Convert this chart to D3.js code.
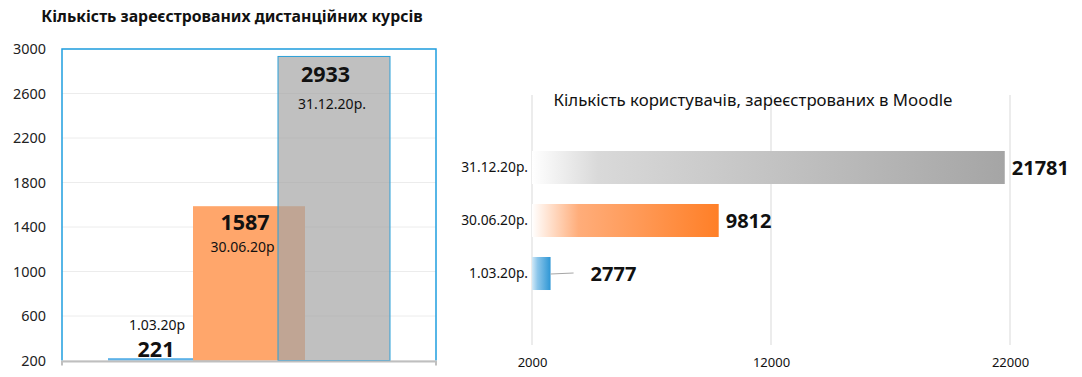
<!DOCTYPE html>
<html>
<head>
<meta charset="utf-8">
<script src="https://cdn.jsdelivr.net/npm/d3@7"></script>
<style>
  body { margin: 0; background: #fff; }
  svg { display: block; font-family: 'Noto Sans', 'Open Sans', sans-serif; }
</style>
</head>
<body>
<svg id="chart" width="1082" height="377"></svg>
<script>
// left chart: registered distance courses
const courseDates = ['1.03.20р', '30.06.20р', '31.12.20р.']
const courseCounts = [221, 1587, 2933]
const courseTicks = [200, 600, 1000, 1400, 1800, 2200, 2600, 3000]

// right chart: users registered in Moodle
const userDates = ['31.12.20р.', '30.06.20р.', '1.03.20р.']
const userCounts = [21781, 9812, 2777]
const userTicks = [2000, 12000, 22000]

const svg = d3.select('#chart')
const defs = svg.append('defs')

// ---------- left chart ----------
const left = {x0: 62, x1: 436, y0: 49, y1: 360.5}
const yL = d3.scaleLinear().domain([200, 3000]).range([left.y1, left.y0])
const xL = d3.scalePoint().domain(courseDates).range([164, 334])
const barW = 112
const leftFills = ['#5db2e8', '#ffa66b', '#a5a5a5']
const leftOpacity = [1, 1, 0.7]

svg.append('text')
  .attr('x', 232).attr('y', 22)
  .attr('text-anchor', 'middle')
  .style('font-size', '15.8px').style('font-weight', 'bold').style('fill', '#111')
  .text('Кількість зареєстрованих дистанційних курсів')

svg.append('g')
  .selectAll('line')
  .data(courseTicks)
  .join('line')
  .attr('x1', left.x0).attr('x2', left.x1)
  .attr('y1', (d) => yL(d)).attr('y2', (d) => yL(d))
  .attr('stroke', '#ececec')

const yAxisL = svg.append('g')
  .attr('transform', `translate(${left.x0}, 0)`)
  .call(d3.axisLeft(yL).tickValues(courseTicks).tickSize(0).tickPadding(16).tickFormat(d3.format('d')))
yAxisL.select('.domain').remove()
yAxisL.selectAll('text')
  .style('font-size', '14.4px').style('fill', '#222').style('font-family', "'Noto Sans', sans-serif")

svg.append('g')
  .selectAll('rect')
  .data(courseCounts)
  .join('rect')
  .attr('x', (d, i) => xL(courseDates[i]) - barW / 2)
  .attr('y', (d) => yL(d))
  .attr('width', barW)
  .attr('height', (d) => yL(200) - yL(d))
  .attr('fill', (d, i) => leftFills[i])
  .attr('fill-opacity', (d, i) => leftOpacity[i])
  .attr('stroke', (d, i) => i === 2 ? '#2a9fd8' : 'none')
  .attr('stroke-width', 1)

// plot area border (bottom edge hidden by the axis line)
svg.append('path')
  .attr('d', `M${left.x0},${left.y1}V${left.y0}H${left.x1}V${left.y1}`)
  .attr('fill', 'none').attr('stroke', '#1f9fe0').attr('stroke-width', 1.5)

// baseline axis with end ticks
svg.append('path')
  .attr('d', `M${left.x0},${yL(200) + 5}V${yL(200) + 1}H${left.x1}V${yL(200) + 5}`)
  .attr('fill', 'none').attr('stroke', '#bfbfbf').attr('stroke-width', 2)

const valueDy = [-1, 24, 26]
const dateDy = [-28, 46, 52.5]
const labelDx = [-8, -4, -8.5]
const dateDx = [-7, -6.5, -2]
const labelsL = svg.append('g')
labelsL.selectAll('text.value')
  .data(courseCounts)
  .join('text')
  .attr('class', 'value')
  .attr('x', (d, i) => xL(courseDates[i]) + labelDx[i])
  .attr('y', (d, i) => yL(d) + valueDy[i])
  .attr('text-anchor', 'middle')
  .style('font-size', '21.5px').style('font-weight', 'bold').style('fill', '#111')
  .text((d) => d)
labelsL.selectAll('text.date')
  .data(courseCounts)
  .join('text')
  .attr('class', 'date')
  .attr('x', (d, i) => xL(courseDates[i]) + dateDx[i])
  .attr('y', (d, i) => yL(d) + dateDy[i])
  .attr('text-anchor', 'middle')
  .style('font-size', '14px').style('fill', '#111')
  .text((d, i) => courseDates[i])

// ---------- right chart ----------
const xR = d3.scaleLinear().domain([2000, 22000]).range([532, 1010])
const yR = d3.scaleBand().domain(userDates).range([141, 300]).paddingInner(0.377).paddingOuter(0.1885)

const gradStops = [
  [['0', '#ffffff'], ['0.14', '#d9d9d9'], ['1', '#a5a5a5']],
  [['0', '#ffffff'], ['0.25', '#ffad7a'], ['1', '#ff7f27']],
  [['0', '#d2e9f7'], ['0.3', '#8cc6ea'], ['1', '#2d96d5']],
]
gradStops.forEach((stops, i) => {
  const g = defs.append('linearGradient').attr('id', 'grad' + i)
    .attr('x1', '0').attr('x2', '1').attr('y1', '0').attr('y2', '0')
  stops.forEach((s) => g.append('stop').attr('offset', s[0]).attr('stop-color', s[1]))
})

svg.append('g')
  .selectAll('line')
  .data(userTicks)
  .join('line')
  .attr('x1', (d) => xR(d)).attr('x2', (d) => xR(d))
  .attr('y1', 95).attr('y2', 345)
  .attr('stroke', '#d9d9d9')

svg.append('text')
  .attr('x', 753).attr('y', 106)
  .attr('text-anchor', 'middle')
  .style('font-size', '16.8px').style('fill', '#111')
  .text('Кількість користувачів, зареєстрованих в Moodle')

const xAxisR = svg.append('g')
  .attr('transform', 'translate(0, 345)')
  .call(d3.axisBottom(xR).tickValues(userTicks).tickSize(0).tickPadding(13).tickFormat(d3.format('d')))
xAxisR.select('.domain').remove()
xAxisR.selectAll('text')
  .style('font-size', '13px').style('fill', '#111').style('font-family', "'Noto Sans', sans-serif")

const yAxisR = svg.append('g')
  .attr('transform', 'translate(532, 0)')
  .call(d3.axisLeft(yR).tickSize(0).tickPadding(4))
yAxisR.select('.domain').remove()
yAxisR.selectAll('text')
  .style('font-size', '13.8px').style('fill', '#111').style('font-family', "'Noto Sans', sans-serif")

svg.append('g')
  .selectAll('rect')
  .data(userCounts)
  .join('rect')
  .attr('x', xR(2000))
  .attr('y', (d, i) => yR(userDates[i]))
  .attr('width', (d) => xR(d) - xR(2000))
  .attr('height', yR.bandwidth())
  .attr('fill', (d, i) => `url(#grad${i})`)

// leader line for the short bar label
svg.append('line')
  .attr('x1', xR(userCounts[2])).attr('x2', xR(userCounts[2]) + 23)
  .attr('y1', yR(userDates[2]) + yR.bandwidth() / 2 + 0.5)
  .attr('y2', yR(userDates[2]) + yR.bandwidth() / 2 - 0.5)
  .attr('stroke', '#a6a6a6')

const labelGap = [7, 7, 40]
svg.append('g')
  .selectAll('text')
  .data(userCounts)
  .join('text')
  .attr('x', (d, i) => xR(d) + labelGap[i])
  .attr('y', (d, i) => yR(userDates[i]) + yR.bandwidth() / 2 + 7)
  .style('font-size', '20px').style('font-weight', 'bold').style('fill', '#111')
  .text((d) => d)
</script>
</body>
</html>
